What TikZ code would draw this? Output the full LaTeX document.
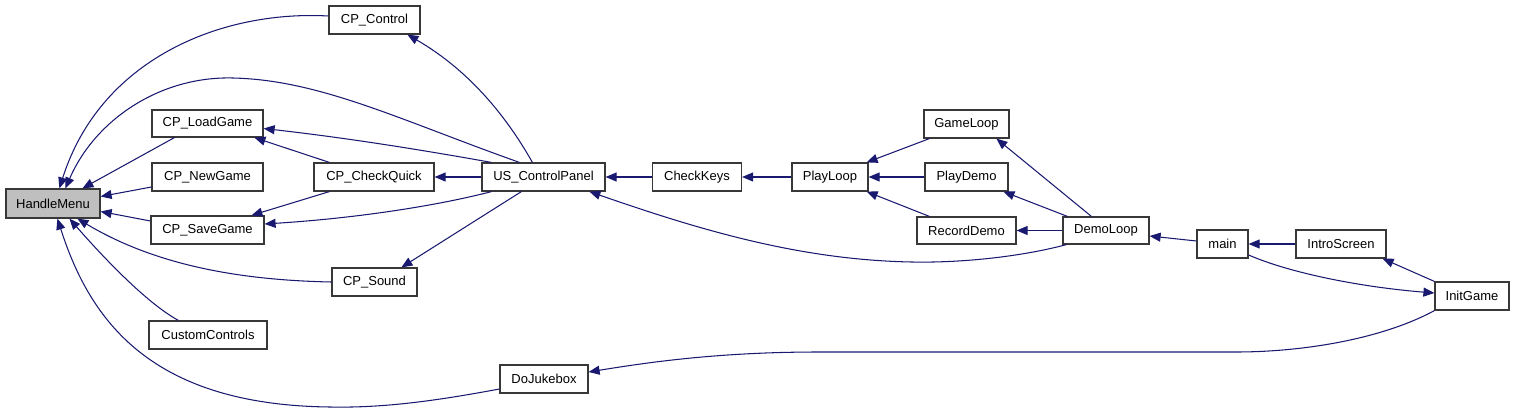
\documentclass[tikz,border=0pt]{standalone}
\usepackage{fontspec}
\setmainfont{Liberation Sans}
\usetikzlibrary{arrows.meta}
\definecolor{edgeblue}{HTML}{191970}
\definecolor{nodegray}{HTML}{BFBFBF}
\begin{document}
\begin{tikzpicture}[x=1pt,y=-1pt,
  fn/.style={draw=black!78, line width=1.2pt, fill=white, rectangle, inner sep=0pt,
    minimum height=28pt, font=\fontsize{13}{15}\selectfont},
  edge/.style={draw=edgeblue, line width=1.05pt, -{Triangle[length=11pt,width=9pt]}}]
\useasboundingbox (0,0) rectangle (1515,412);

% nodes
\node[fn, minimum width=94pt, minimum height=29pt, fill=nodegray] (HM) at (53,203.5) {HandleMenu};
\node[fn, minimum width=91pt] (CPC) at (374.5,20) {CP\_Control};
\node[fn, minimum width=111pt, minimum height=27pt] (CPL) at (207.5,123.5) {CP\_LoadGame};
\node[fn, minimum width=111pt] (CPN) at (207.5,177) {CP\_NewGame};
\node[fn, minimum width=113pt] (CPS) at (207.5,230) {CP\_SaveGame};
\node[fn, minimum width=85pt] (CPSo) at (374.5,282) {CP\_Sound};
\node[fn, minimum width=118pt] (CC) at (208,335) {CustomControls};
\node[fn, minimum width=88pt] (DJ) at (544,379) {DoJukebox};
\node[fn, minimum width=120pt] (CQ) at (374,177) {CP\_CheckQuick};
\node[fn, minimum width=123pt] (US) at (543.5,177) {US\_ControlPanel};
\node[fn, minimum width=89pt] (CK) at (697,177) {CheckKeys};
\node[fn, minimum width=76pt] (PL) at (830,177) {PlayLoop};
\node[fn, minimum width=85pt] (GL) at (966.5,124) {GameLoop};
\node[fn, minimum width=83pt] (PD) at (966.5,177) {PlayDemo};
\node[fn, minimum width=99pt, minimum height=27pt] (RD) at (966.5,230.5) {RecordDemo};
\node[fn, minimum width=86pt, minimum height=27pt] (DL) at (1106,230.5) {DemoLoop};
\node[fn, minimum width=51pt] (MN) at (1222.5,244) {main};
\node[fn, minimum width=90pt] (IS) at (1341,244) {IntroScreen};
\node[fn, minimum width=74pt] (IG) at (1472,296) {InitGame};

% edges into HandleMenu
\draw[edge] ([yshift=4pt]CPC.west) .. controls (220,10) and (100,60) .. ([xshift=54pt]HM.north west);
\draw[edge] ([xshift=38pt]US.north west) .. controls (400,120) and (320,80) .. (233,78)
   .. controls (160,76) and (95,120) .. ([xshift=60pt]HM.north west);
\draw[edge] ([xshift=23pt]CPL.south west) -- ([xshift=77pt]HM.north west);
\draw[edge] ([yshift=-10pt]CPN.west) -- ([yshift=7pt]HM.east);
\draw[edge] ([yshift=9pt]CPS.west) -- ([yshift=-8pt]HM.east);
\draw[edge] (CPSo.west) .. controls (230,280) and (150,262) .. ([xshift=72pt]HM.south west);
\draw[edge] ([xshift=30pt]CC.north west) .. controls (150,305) and (110,265) .. ([xshift=64pt]HM.south west);
\draw[edge] ([yshift=-10pt]DJ.west) .. controls (430,402) and (380,408) .. (330,407)
   .. controls (150,405) and (90,320) .. ([xshift=52pt]HM.south west);

% US_ControlPanel callers
\draw[edge] ([xshift=51pt]US.north west) .. controls (500,105) and (460,65) .. ([xshift=79pt]CPC.south west);
\draw[edge] ([xshift=10pt]US.north west) .. controls (400,146) and (330,136) .. ([yshift=-5pt]CPL.east);
\draw[edge] ([xshift=16pt]CQ.north west) -- ([xshift=103pt]CPL.south west);
\draw[edge] (US.west) -- (CQ.east);
\draw[edge] ([xshift=16pt]CQ.south west) -- ([xshift=101pt]CPS.north west);
\draw[edge] ([xshift=10pt]US.south west) .. controls (440,205) and (360,218) .. ([yshift=6pt]CPS.east);
\draw[edge] ([xshift=40pt]US.south west) -- ([xshift=70pt]CPSo.north west);
\draw[edge] (CK.west) -- (US.east);
\draw[edge] ([xshift=4pt]DL.south west) .. controls (1020,257) and (960,263) .. (912,262)
   .. controls (800,260) and (700,230) .. ([xshift=108pt]US.south west);

% right part
\draw[edge] (PL.west) -- (CK.east);
\draw[edge] ([xshift=6pt]GL.south west) -- ([xshift=-2pt]PL.north east);
\draw[edge] (PD.west) -- (PL.east);
\draw[edge] ([xshift=13pt]RD.north west) -- ([xshift=-2pt]PL.south east);
\draw[edge] ([xshift=29pt]DL.north west) -- ([xshift=73pt]GL.south west);
\draw[edge] ([xshift=5pt]DL.north west) -- ([xshift=79pt]PD.south west);
\draw[edge] (DL.west) -- (RD.east);
\draw[edge] ([yshift=3pt]MN.west) -- ([yshift=-5.5pt]DL.east);
\draw[edge] (IS.west) -- (MN.east);
\draw[edge] ([yshift=-11pt]MN.east) .. controls (1290,273) and (1360,287) .. ([yshift=3pt]IG.west);
\draw[edge] (IG.north west) -- ([xshift=-4pt]IS.south east);
\draw[edge] (IG.south west) .. controls (1380,340) and (1300,352) .. (1236,352) -- (819,352)
   .. controls (720,352) and (650,362) .. ([yshift=7pt]DJ.east);
\end{tikzpicture}
\end{document}
